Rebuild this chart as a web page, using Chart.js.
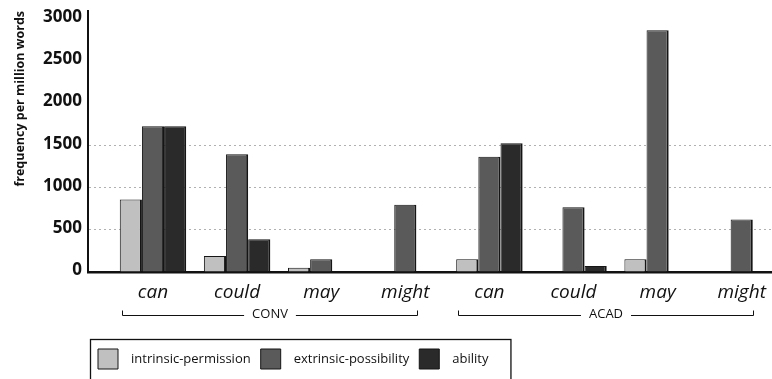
<!DOCTYPE html>
<html><head><meta charset="utf-8">
<script src="https://cdn.jsdelivr.net/npm/chart.js@4"></script>
<style>html,body{margin:0;padding:0;background:#fff;overflow:hidden}</style>
</head><body>
<canvas id="c" width="772" height="379"></canvas>
<script>
const MODALS = ['can', 'could', 'may', 'might', 'can', 'could', 'may', 'might'];
const GROUPS = ['CONV', 'ACAD'];
const GROUP_OF = [0, 0, 0, 0, 1, 1, 1, 1];
const SERIES_NAMES = ['intrinsic-permission', 'extrinsic-possibility', 'ability'];
const INTRINSIC = [860, 190, 50, 0, 150, 0, 150, 0];
const EXTRINSIC = [1730, 1400, 150, 800, 1370, 770, 2870, 625];
const ABILITY = [1730, 390, 0, 0, 1530, 70, 0, 0];
const Y_TICKS = [0, 500, 1000, 1500, 2000, 2500, 3000];
const GRID_VALUES = [500, 1000, 1500];

const COLORS = ['#c0c0c0', '#5a5a5a', '#2a2a2a'];
const FONT = '"Open Sans", "Liberation Sans", sans-serif';

const toPoints = arr => arr.map((v, i) => ({ x: i, y: v }));

const groupBrackets = {
  id: 'groupBrackets',
  afterDraw(chart) {
    const xs = chart.scales.x, ctx = chart.ctx;
    const y = Math.round(xs.top + 43) + 0.5;
    GROUPS.forEach((name, g) => {
      const idx = GROUP_OF.map((v, i) => (v === g ? i : -1)).filter(i => i >= 0);
      const l = Math.round(xs.getPixelForValue(idx[0] - 0.37)) + 0.5;
      const r = Math.round(xs.getPixelForValue(idx[idx.length - 1] + 0.15)) - 0.5;
      const cx = (l + r) / 2;
      ctx.save();
      ctx.font = '13px ' + FONT;
      const tw = ctx.measureText(name).width;
      ctx.strokeStyle = '#111';
      ctx.lineWidth = 1;
      ctx.beginPath();
      ctx.moveTo(l, y - 5); ctx.lineTo(l, y); ctx.lineTo(cx - tw / 2 - 8, y);
      ctx.moveTo(cx + tw / 2 + 8, y); ctx.lineTo(r, y); ctx.lineTo(r, y - 5);
      ctx.stroke();
      ctx.fillStyle = '#111';
      ctx.textAlign = 'center';
      ctx.textBaseline = 'middle';
      ctx.fillText(name, cx, y - 1);
      ctx.restore();
    });
  }
};

const legendFrame = {
  id: 'legendFrame',
  afterDraw(chart) {
    const lg = chart.legend;
    if (!lg || !lg.legendHitBoxes || !lg.legendHitBoxes.length) return;
    const ctx = chart.ctx;
    const right = Math.max(...lg.legendHitBoxes.map(b => b.left + b.width)) + 22;
    ctx.save();
    ctx.strokeStyle = '#111';
    ctx.lineWidth = 1.3;
    ctx.strokeRect(lg.left + 2.5, lg.top + 0.5, right - lg.left - 2, lg.height + 12);
    ctx.restore();
  }
};

new Chart(document.getElementById('c'), {
  type: 'bar',
  data: {
    datasets: [INTRINSIC, EXTRINSIC, ABILITY].map((arr, k) => ({
      label: SERIES_NAMES[k],
      data: toPoints(arr),
      backgroundColor: COLORS[k],
      borderColor: '#151515',
      borderWidth: { top: 1, left: 1, right: 2, bottom: 0 },
      categoryPercentage: 0.79,
      barPercentage: 1.0
    }))
  },
  options: {
    responsive: false,
    animation: false,
    layout: { padding: { top: 11, left: 0, right: 0, bottom: 0 } },
    plugins: {
      legend: {
        position: 'bottom',
        align: 'start',
        fullSize: false,
        labels: {
          boxWidth: 20, boxHeight: 20, padding: 10, color: '#111',
          font: { family: FONT, size: 13 },
          generateLabels: chart => {
            const items = Chart.defaults.plugins.legend.labels.generateLabels(chart);
            items.forEach(it => { it.text = '\u2002' + it.text; });
            return items;
          }
        }
      },
      tooltip: { enabled: false }
    },
    scales: {
      x: {
        type: 'linear',
        offset: false,
        min: -0.773,
        max: 7.36,
        grid: { display: false, drawTicks: false, offset: false },
        border: { color: '#111', width: 2.5 },
        afterBuildTicks: s => { s.ticks = MODALS.map((_, i) => ({ value: i })); },
        ticks: {
          autoSkip: false, maxRotation: 0, padding: 9, color: '#111',
          font: { family: FONT, size: 19, style: 'italic' },
          callback: v => MODALS[v]
        },
        afterFit: s => { s.height = 67; s.paddingLeft = 0; s.paddingRight = 0; }
      },
      y: {
        min: 0,
        max: 3100,
        afterBuildTicks: s => { s.ticks = Y_TICKS.map(v => ({ value: v })); },
        grid: {
          drawTicks: false,
          lineWidth: 1,
          color: c => (c.tick && GRID_VALUES.includes(c.tick.value)) ? '#b0b0b0' : 'rgba(0,0,0,0)'
        },
        border: { color: '#111', width: 2, dash: [2, 3] },
        ticks: {
          padding: 6, labelOffset: -2, color: '#111',
          font: { family: FONT, size: 17, weight: 'bold' },
          callback: v => String(v)
        },
        title: {
          display: true, text: 'frequency per million words', align: 'end', color: '#111',
          font: { family: FONT, size: 12.5, weight: 'bold' },
          padding: { top: 13, bottom: 0 }
        },
        afterFit: s => { s.width = 88; s.paddingTop = 0; s.paddingBottom = 0; }
      }
    }
  },
  plugins: [groupBrackets, legendFrame]
});
</script>
</body></html>
